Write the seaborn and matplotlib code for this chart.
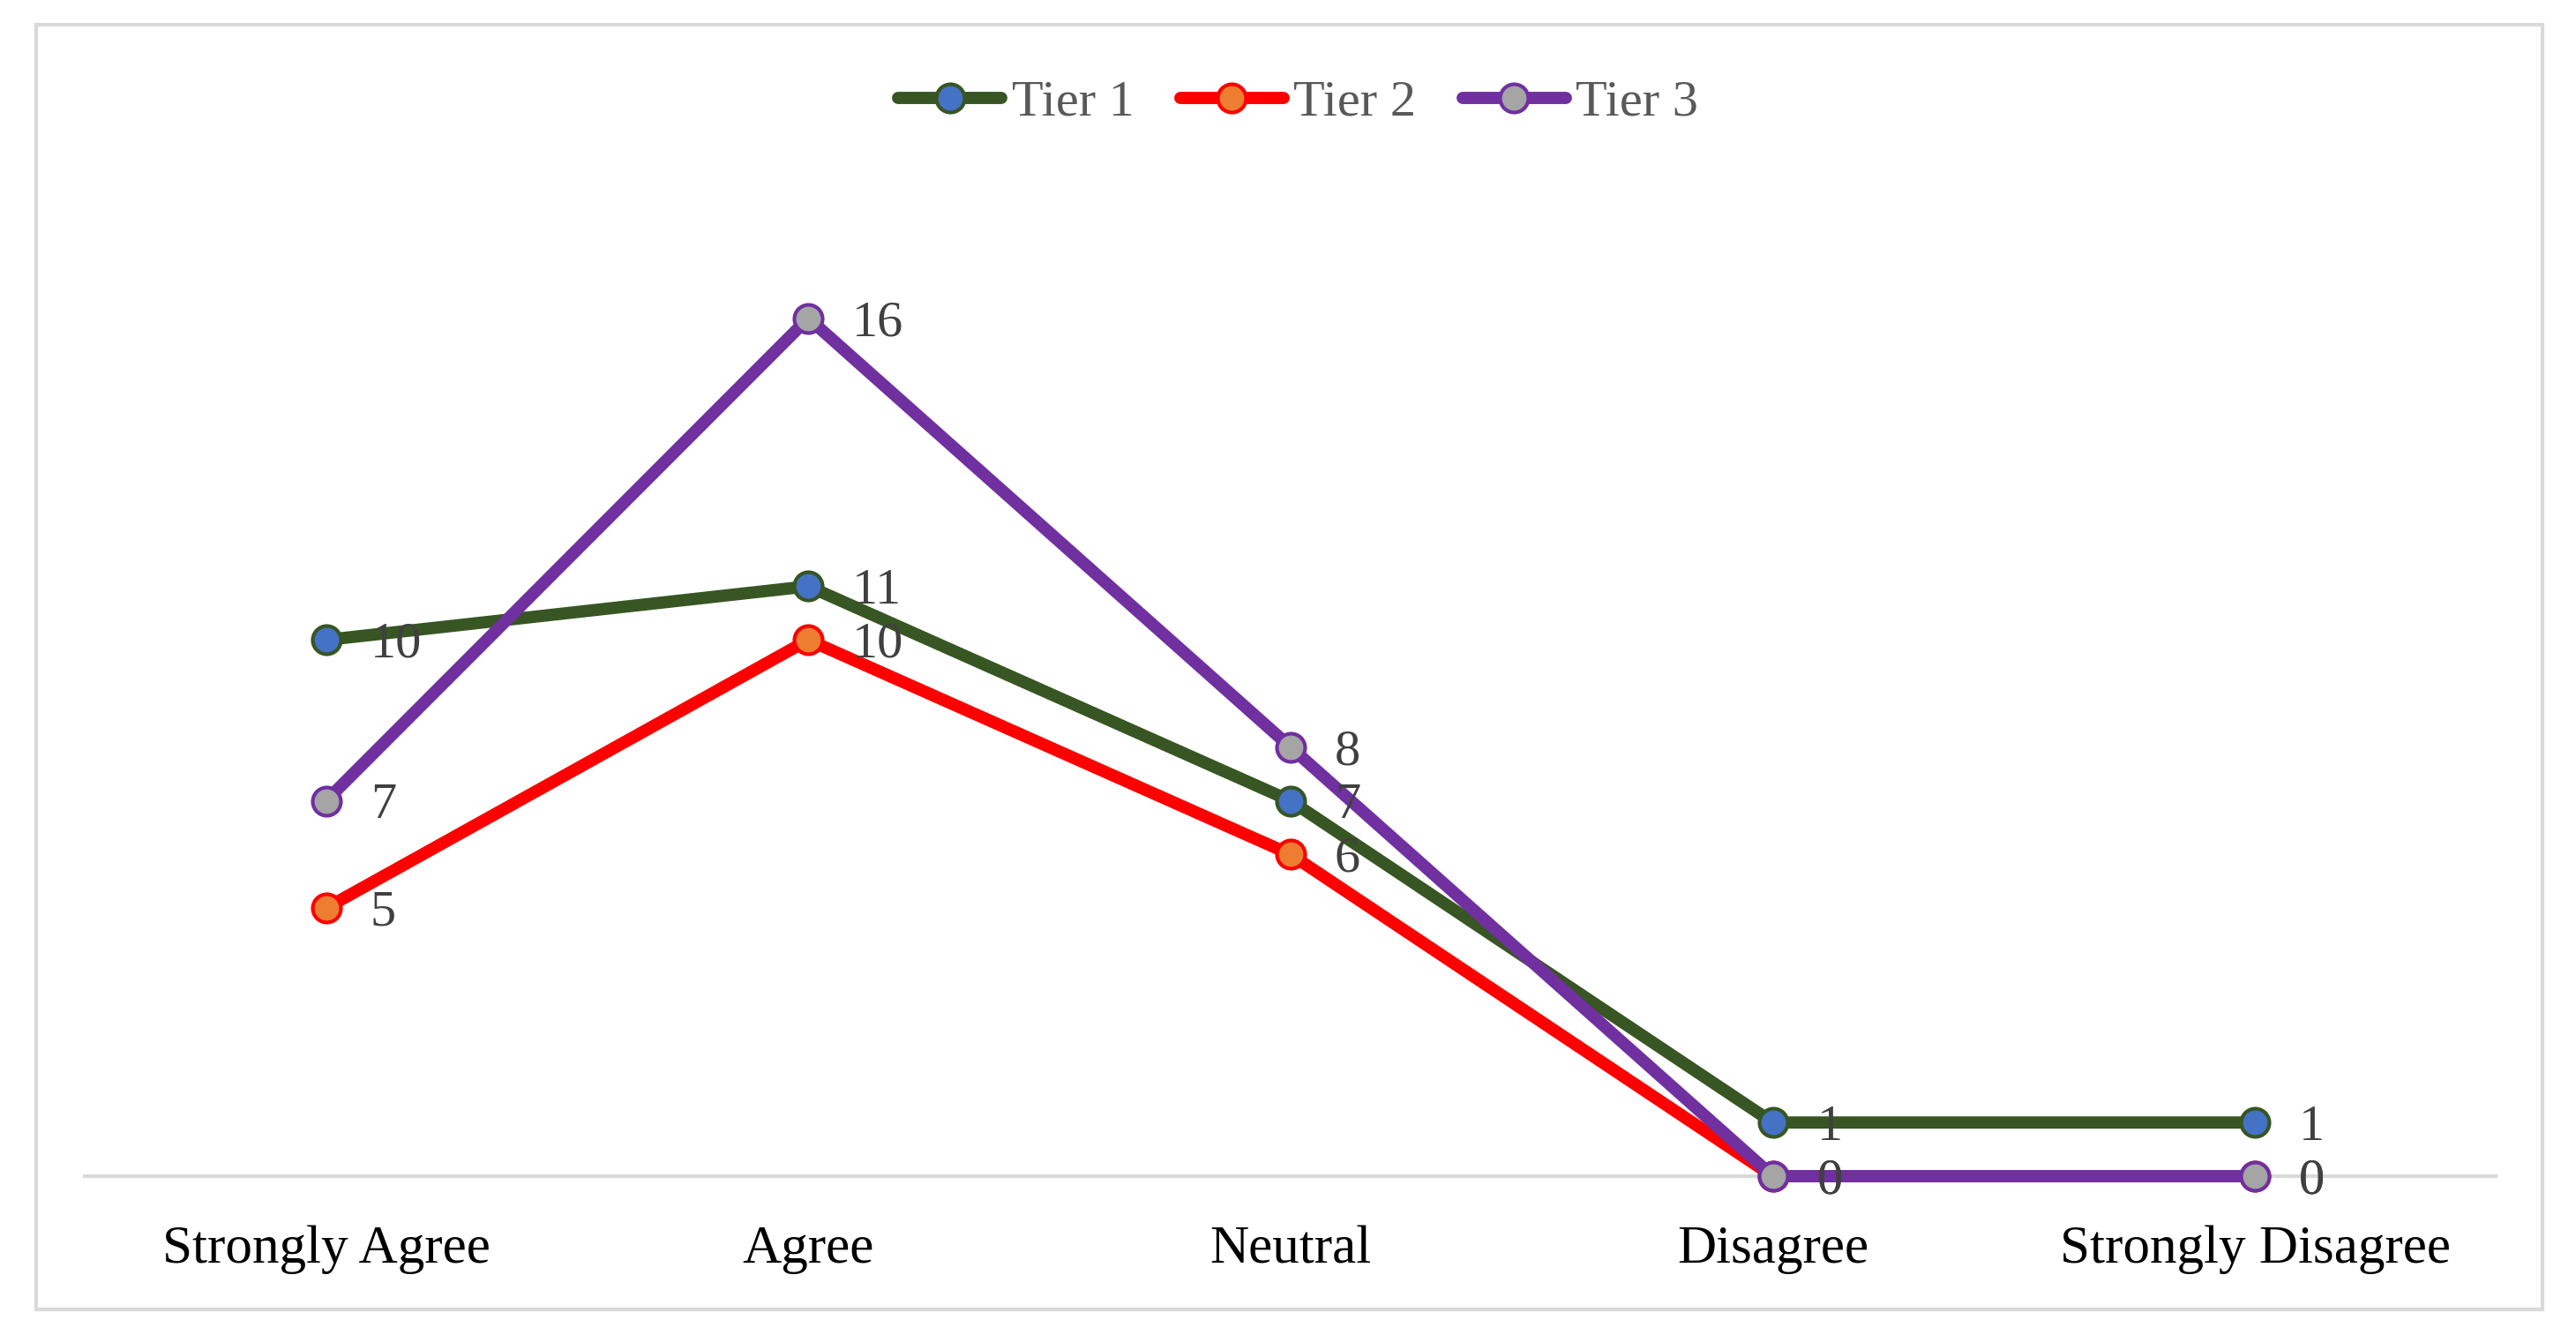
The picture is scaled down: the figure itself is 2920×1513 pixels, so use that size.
import pandas as pd
import seaborn as sns
import matplotlib.pyplot as plt
from matplotlib.patches import Rectangle

categories = ['Strongly Agree', 'Agree', 'Neutral', 'Disagree', 'Strongly Disagree']
tier1 = [10, 11, 7, 1, 1]
tier2 = [5, 10, 6, 0, 0]
tier3 = [7, 16, 8, 0, 0]

series = ['Tier 1', 'Tier 2', 'Tier 3']
line_colors = ['#375623', '#FF0000', '#7030A0']
face_colors = ['#4472C4', '#ED7D31', '#A5A5A5']

sns.set_style('white')
plt.rcParams['font.family'] = ['Liberation Serif', 'DejaVu Serif']

fig = plt.figure(figsize=(29.2, 15.13), dpi=100)
ax = fig.add_axes([0.033, 0.119, 0.936, 0.723])

handles = []
for name, vals, lc, fc in zip(series, [tier1, tier2, tier3], line_colors, face_colors):
    df = pd.DataFrame({'answer': categories, 'count': vals})
    sns.lineplot(data=df, x='answer', y='count', ax=ax, sort=False,
                 color=lc, linewidth=10, marker='o', markersize=23,
                 markerfacecolor=fc, markeredgecolor=lc, markeredgewidth=3,
                 clip_on=False, label=name, zorder=3)
    for ln in ax.get_lines():
        if ln.get_label() == name:
            ln.set_linewidth(10)
            ln.set_solid_capstyle('round')
            handles.append(ln)
    for i, v in enumerate(vals):
        ax.annotate(str(v), (i, v), xytext=(36, -4), textcoords='offset points',
                    ha='left', va='center', fontsize=42, color='#404040', zorder=4)

ax.set_xlim(-0.5, 4.5)
ax.set_ylim(0, 18)
ax.set_xlabel('')
ax.set_ylabel('')
ax.set_yticks([])
for s in ['top', 'right', 'left']:
    ax.spines[s].set_visible(False)
ax.spines['bottom'].set_color('#D9D9D9')
ax.spines['bottom'].set_linewidth(3)
ax.tick_params(axis='x', length=0, pad=40, labelsize=44, labelcolor='black')

ax.legend(handles, series, loc='center', bbox_to_anchor=(0.504, 0.923),
          bbox_transform=fig.transFigure, ncol=3, frameon=False, fontsize=42,
          handlelength=2.0, handletextpad=0.2, columnspacing=0.9, labelcolor='#595959')

fig.patches.append(Rectangle((0.014, 0.019), 0.973, 0.9625, transform=fig.transFigure,
                             fill=False, edgecolor='#D9D9D9', linewidth=3))

fig.savefig('out.png', dpi=100, facecolor='white')
